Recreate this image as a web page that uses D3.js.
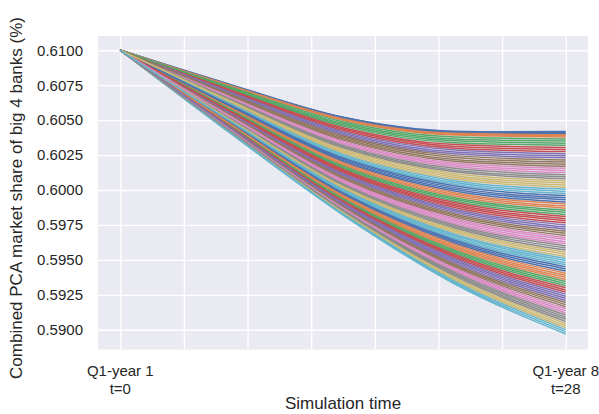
<!DOCTYPE html>
<html>
<head>
<meta charset="utf-8">
<script src="https://cdn.jsdelivr.net/npm/d3@7"></script>
<style>
  body { margin: 0; background: #fff; }
  text { font-family: "Liberation Sans", Arial, sans-serif; fill: #262626; }
</style>
</head>
<body>
<div id="container"></div>
<script>
// simulation quarters we read a value at, every run starts from the same share
const quarters = [0, 7, 14, 21, 28];
const startShare = 0.61;

// one row per simulation run: share at t=7, 14, 21, 28
const runs = [
  [0.60752, 0.60521, 0.60415, 0.60418],
  [0.60750, 0.60520, 0.60420, 0.60410],
  [0.60747, 0.60514, 0.60412, 0.60403],
  [0.60745, 0.60509, 0.60406, 0.60395],
  [0.60741, 0.60503, 0.60399, 0.60388],
  [0.60739, 0.60499, 0.60393, 0.60380],
  [0.60734, 0.60488, 0.60379, 0.60365],
  [0.60728, 0.60477, 0.60365, 0.60350],
  [0.60723, 0.60467, 0.60352, 0.60335],
  [0.60718, 0.60457, 0.60339, 0.60320],
  [0.60712, 0.60446, 0.60325, 0.60305],
  [0.60707, 0.60436, 0.60312, 0.60290],
  [0.60702, 0.60426, 0.60299, 0.60275],
  [0.60697, 0.60416, 0.60286, 0.60260],
  [0.60691, 0.60406, 0.60272, 0.60245],
  [0.60686, 0.60396, 0.60259, 0.60230],
  [0.60681, 0.60386, 0.60246, 0.60215],
  [0.60676, 0.60377, 0.60233, 0.60200],
  [0.60671, 0.60367, 0.60219, 0.60185],
  [0.60666, 0.60357, 0.60206, 0.60170],
  [0.60661, 0.60348, 0.60193, 0.60155],
  [0.60656, 0.60338, 0.60181, 0.60140],
  [0.60651, 0.60329, 0.60168, 0.60125],
  [0.60646, 0.60319, 0.60155, 0.60110],
  [0.60642, 0.60310, 0.60142, 0.60095],
  [0.60637, 0.60301, 0.60130, 0.60080],
  [0.60633, 0.60291, 0.60117, 0.60065],
  [0.60628, 0.60282, 0.60104, 0.60050],
  [0.60623, 0.60273, 0.60092, 0.60035],
  [0.60619, 0.60264, 0.60079, 0.60020],
  [0.60614, 0.60255, 0.60067, 0.60005],
  [0.60609, 0.60246, 0.60054, 0.59990],
  [0.60605, 0.60238, 0.60042, 0.59975],
  [0.60601, 0.60229, 0.60030, 0.59960],
  [0.60596, 0.60221, 0.60017, 0.59945],
  [0.60592, 0.60212, 0.60005, 0.59930],
  [0.60588, 0.60204, 0.59993, 0.59915],
  [0.60584, 0.60196, 0.59981, 0.59900],
  [0.60579, 0.60187, 0.59969, 0.59885],
  [0.60575, 0.60179, 0.59957, 0.59870],
  [0.60571, 0.60171, 0.59945, 0.59855],
  [0.60567, 0.60163, 0.59934, 0.59840],
  [0.60563, 0.60155, 0.59922, 0.59825],
  [0.60559, 0.60147, 0.59910, 0.59810],
  [0.60555, 0.60139, 0.59898, 0.59795],
  [0.60551, 0.60132, 0.59887, 0.59780],
  [0.60547, 0.60124, 0.59875, 0.59765],
  [0.60543, 0.60116, 0.59863, 0.59750],
  [0.60539, 0.60109, 0.59852, 0.59735],
  [0.60536, 0.60101, 0.59840, 0.59720],
  [0.60532, 0.60094, 0.59829, 0.59705],
  [0.60528, 0.60086, 0.59817, 0.59690],
  [0.60525, 0.60079, 0.59806, 0.59675],
  [0.60521, 0.60072, 0.59795, 0.59660],
  [0.60518, 0.60065, 0.59783, 0.59645],
  [0.60514, 0.60058, 0.59772, 0.59630],
  [0.60511, 0.60051, 0.59761, 0.59615],
  [0.60507, 0.60044, 0.59750, 0.59600],
  [0.60504, 0.60037, 0.59739, 0.59585],
  [0.60500, 0.60030, 0.59728, 0.59570],
  [0.60497, 0.60024, 0.59717, 0.59555],
  [0.60494, 0.60017, 0.59706, 0.59540],
  [0.60490, 0.60011, 0.59695, 0.59525],
  [0.60487, 0.60004, 0.59684, 0.59510],
  [0.60484, 0.59998, 0.59674, 0.59495],
  [0.60481, 0.59992, 0.59663, 0.59480],
  [0.60478, 0.59985, 0.59653, 0.59465],
  [0.60475, 0.59979, 0.59642, 0.59450],
  [0.60472, 0.59973, 0.59632, 0.59435],
  [0.60469, 0.59967, 0.59621, 0.59420],
  [0.60466, 0.59961, 0.59611, 0.59405],
  [0.60463, 0.59955, 0.59600, 0.59390],
  [0.60460, 0.59949, 0.59590, 0.59375],
  [0.60458, 0.59944, 0.59580, 0.59360],
  [0.60455, 0.59938, 0.59569, 0.59345],
  [0.60452, 0.59932, 0.59559, 0.59330],
  [0.60450, 0.59927, 0.59549, 0.59315],
  [0.60447, 0.59922, 0.59539, 0.59300],
  [0.60445, 0.59916, 0.59529, 0.59285],
  [0.60442, 0.59911, 0.59519, 0.59270],
  [0.60440, 0.59906, 0.59509, 0.59255],
  [0.60437, 0.59901, 0.59499, 0.59240],
  [0.60435, 0.59895, 0.59489, 0.59225],
  [0.60432, 0.59890, 0.59479, 0.59210],
  [0.60430, 0.59885, 0.59469, 0.59195],
  [0.60428, 0.59881, 0.59460, 0.59180],
  [0.60425, 0.59876, 0.59450, 0.59165],
  [0.60423, 0.59871, 0.59440, 0.59150],
  [0.60421, 0.59867, 0.59431, 0.59135],
  [0.60419, 0.59862, 0.59422, 0.59120],
  [0.60416, 0.59858, 0.59412, 0.59105],
  [0.60414, 0.59853, 0.59403, 0.59090],
  [0.60412, 0.59849, 0.59394, 0.59075],
  [0.60410, 0.59845, 0.59385, 0.59060],
  [0.60408, 0.59840, 0.59375, 0.59045],
  [0.60406, 0.59836, 0.59366, 0.59030],
  [0.60404, 0.59832, 0.59357, 0.59015],
  [0.60403, 0.59829, 0.59348, 0.59000],
  [0.60401, 0.59825, 0.59338, 0.58985],
  [0.60399, 0.59821, 0.59329, 0.58970]
];

const gridQuarters = [0, 4, 8, 12, 16, 20, 24, 28];
const xTickAt = [0, 28];
const xTickLabels = [["Q1-year 1", "t=0"], ["Q1-year 8", "t=28"]];
const yTicks = [0.5900, 0.5925, 0.5950, 0.5975, 0.6000, 0.6025, 0.6050, 0.6075, 0.6100];
const palette = ["#4C72B0", "#DD8452", "#55A868", "#C44E52", "#8172B3",
                 "#937860", "#DA8BC3", "#8C8C8C", "#CCB974", "#64B5CD"];

const width = 599;
const height = 414;
const plotL = 98, plotR = 588, plotT = 36, plotB = 349.6;

const svg = d3.select("#container").append("svg")
  .attr("width", width)
  .attr("height", height);

const x = d3.scaleLinear().domain([-1.4, 29.4]).range([plotL, plotR]);
const y = d3.scaleLinear().domain([0.58858, 0.61102]).range([plotB, plotT]);

svg.append("rect")
  .attr("x", plotL).attr("y", plotT)
  .attr("width", plotR - plotL).attr("height", plotB - plotT)
  .attr("fill", "#EAEAF2");

// grid via the axes, seaborn darkgrid style (white lines, no spines)
const yAxis = svg.append("g")
  .attr("transform", `translate(${plotL},0)`)
  .call(d3.axisLeft(y).tickValues(yTicks).tickFormat(d3.format(".4f"))
    .tickSize(-(plotR - plotL)).tickPadding(15));
const xAxis = svg.append("g")
  .attr("transform", `translate(0,${plotB})`)
  .call(d3.axisBottom(x).tickValues(gridQuarters).tickFormat("")
    .tickSize(-(plotB - plotT)));
[yAxis, xAxis].forEach(g => {
  g.select(".domain").remove();
  g.selectAll(".tick line").attr("stroke", "#fff").attr("stroke-width", 1.3);
});
yAxis.selectAll(".tick text")
  .attr("font-size", 15)
  .attr("fill", "#262626");

const line = d3.line()
  .x((d, i) => x(quarters[i]))
  .y(d => y(d))
  .curve(d3.curveMonotoneX);

// runs are listed sorted by final share; draw them scrambled like a sim loop
// (stride modulo 101 so colours don't line up with the sorted order)
const n = runs.length;
const order = d3.range(1, n + 1).map(i => (i * 37) % (n + 1) - 1);
svg.append("g").selectAll("path")
  .data(order)
  .join("path")
  .attr("fill", "none")
  .attr("stroke", (d, j) => palette[j % 10])
  .attr("stroke-width", 1.5)
  .attr("d", d => line([startShare, ...runs[d]]));

const xt = svg.append("g").selectAll("text")
  .data(xTickAt)
  .join("text")
  .attr("text-anchor", "middle")
  .attr("font-size", 15)
  .attr("y", 376);
xt.selectAll("tspan")
  .data((d, i) => xTickLabels[i].map(s => ({ s, at: d })))
  .join("tspan")
  .attr("x", d => x(d.at))
  .attr("dy", (d, i) => i ? 17.5 : 0)
  .text(d => d.s);

svg.append("text")
  .attr("x", (plotL + plotR) / 2)
  .attr("y", 409)
  .attr("text-anchor", "middle")
  .attr("font-size", 17)
  .text("Simulation time");

svg.append("text")
  .attr("transform", `translate(22,198) rotate(-90)`)
  .attr("text-anchor", "middle")
  .attr("font-size", 17)
  .text("Combined PCA market share of big 4 banks (%)");
</script>
</body>
</html>
